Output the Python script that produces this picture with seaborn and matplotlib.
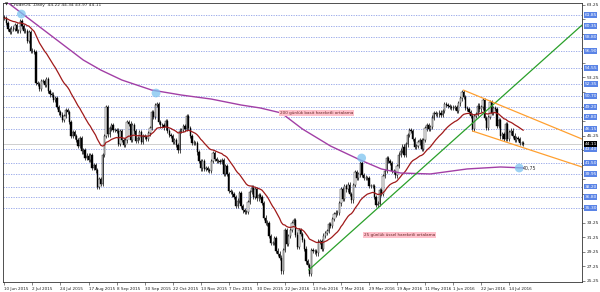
import numpy as np
import pandas as pd
import matplotlib
matplotlib.use("Agg")
import matplotlib.pyplot as plt
import matplotlib.transforms as mtransforms
import seaborn as sns

# ---------------- data ----------------
close_2015_06 = [61.43, 60.77, 59.96, 59.52, 59.97, 59.92, 60.45, 59.61, 59.68, 61.01, 60.27, 59.70, 59.63, 58.33, 59.47]
close_2015_07 = [56.96, 56.93, 56.80, 52.53, 52.33, 51.65, 52.78, 52.74, 52.20, 53.04, 51.41, 50.91, 50.89, 50.15,
                 50.36, 49.19, 48.45, 48.14, 47.39, 47.98, 48.79, 48.52, 47.12]
close_2015_08 = [45.17, 45.74, 45.15, 44.66, 43.87, 44.96, 43.08, 43.30, 42.23, 42.50, 41.87, 42.62, 40.80, 41.14,
                 40.45, 38.24, 39.31, 38.60, 42.56, 45.22, 49.20]
close_2015_09 = [45.41, 46.25, 46.75, 46.05, 46.00, 45.94, 44.15, 45.92, 44.63, 44.00, 44.59, 47.15, 46.90, 44.68,
                 46.68, 45.83, 44.48, 44.91, 45.70, 44.43, 45.23, 45.09]
close_2015_10 = [44.74, 45.54, 46.26, 48.53, 47.81, 49.43, 49.63, 47.10, 46.66, 46.64, 46.38, 47.26, 45.89, 45.29,
                 45.20, 44.38, 44.60, 43.98, 43.20, 45.94, 46.06, 46.59]
close_2015_11 = [46.14, 47.90, 46.32, 45.20, 44.29, 44.21, 44.21, 42.93, 41.75, 40.74, 41.74, 40.67, 40.75, 40.54,
                 40.39, 41.75, 42.87, 42.04, 41.71, 41.71, 41.65]
close_2015_12 = [41.85, 39.94, 41.08, 39.97, 37.65, 37.51, 37.16, 36.76, 35.62, 36.31, 37.35, 35.52, 34.95, 34.73,
                 34.74, 36.14, 37.50, 38.10, 36.81, 37.87, 36.60, 37.04]
close_2016_01 = [36.76, 35.97, 33.97, 33.27, 33.16, 31.41, 30.44, 30.48, 31.20, 29.42, 29.00, 28.46, 26.55, 29.53,
                 32.19, 30.34, 31.45, 32.30, 33.22, 33.62]
close_2016_02 = [31.62, 29.88, 32.28, 31.72, 30.89, 29.69, 27.94, 27.45, 26.21, 29.44, 29.40, 29.30, 29.04, 30.66,
                 30.77, 29.64, 31.48, 31.87, 32.15, 33.07, 32.78, 33.75]
close_2016_03 = [34.40, 34.66, 34.57, 35.92, 37.90, 36.50, 38.29, 37.84, 38.50, 37.18, 36.34, 38.46, 40.20, 39.44,
                 39.91, 41.45, 39.79, 39.46, 39.40, 39.39, 38.28, 38.32, 38.34]
close_2016_04 = [36.79, 35.70, 35.89, 37.75, 37.26, 39.72, 40.36, 42.17, 41.76, 41.50, 40.36, 40.20, 39.78, 41.08,
                 42.63, 43.18, 43.73, 42.64, 44.04, 45.33, 46.03, 45.92]
close_2016_05 = [44.78, 43.65, 43.78, 44.32, 44.66, 43.44, 44.66, 46.23, 46.70, 46.21, 46.40, 47.72, 48.31, 48.19,
                 48.16, 48.41, 48.08, 48.62, 49.56, 49.48, 49.33, 49.20, 49.10]
close_2016_06 = [49.01, 49.17, 48.62, 49.69, 50.36, 51.23, 50.56, 49.07, 48.88, 48.49, 48.01, 46.21, 47.98, 48.20,
                 49.37, 48.85, 49.13, 50.11, 47.64, 46.33, 47.85, 49.88, 48.33]
close_2016_07 = [48.99, 48.90, 46.60, 47.43, 45.14, 45.41, 44.76, 46.80, 44.75, 45.68, 45.95, 45.24, 44.65, 44.94,
                 44.75, 44.19, 44.22, 44.11]
first_open = 61.60

# 200-day simple moving average (bar index, price)
sma200_bar = [0, 21, 45, 55, 67, 84, 101, 118, 135, 146, 158, 170, 186, 203, 215, 226, 243, 264, 283, 296]
sma200_val = [63.90, 60.05, 55.65, 54.27, 52.90, 51.52, 50.83, 50.28, 49.46, 49.05, 48.36, 46.16, 43.82, 41.89,
              40.66, 40.10, 39.97, 40.66, 40.93, 40.80]

# horizontal support / resistance levels
level_prices = [61.85, 60.35, 58.80, 56.90, 54.55, 52.35, 50.70, 49.20, 47.80, 46.15, 43.40, 41.50, 39.95,
                38.20, 36.80, 35.30]
last_price = 44.11

# trend lines (bar index, price)
green_bar = [173.6, 329.5]
green_val = [26.76, 60.46]
upper_bar = [261.8, 329.5]
upper_val = [51.52, 44.78]
lower_bar = [267.0, 329.5]
lower_val = [45.88, 40.93]

# highlighted touch points
circle_bar = [9.7, 86.5, 203.8, 293.7]
circle_val = [61.98, 51.11, 42.17, 40.79]

date_tick_bars = list(range(0, 289, 16))
date_labels = ["10 Jun 2015", "2 Jul 2015", "24 Jul 2015", "17 Aug 2015", "8 Sep 2015", "30 Sep 2015",
               "22 Oct 2015", "13 Nov 2015", "7 Dec 2015", "30 Dec 2015", "22 Jan 2016", "13 Feb 2016",
               "7 Mar 2016", "29 Mar 2016", "19 Apr 2016", "11 May 2016", "1 Jun 2016", "22 Jun 2016",
               "14 Jul 2016"]
price_ticks = [25.25, 27.25, 29.25, 31.25, 33.25, 35.25, 37.25, 39.25, 41.25, 43.25, 45.25, 47.25, 49.25,
               51.25, 53.25, 55.25, 57.25, 59.25, 61.25, 63.25]

# ---------------- build frame ----------------
closes = (close_2015_06 + close_2015_07 + close_2015_08 + close_2015_09 + close_2015_10 + close_2015_11 +
          close_2015_12 + close_2016_01 + close_2016_02 + close_2016_03 + close_2016_04 + close_2016_05 +
          close_2016_06 + close_2016_07)
df = pd.DataFrame({"bar": np.arange(len(closes)), "close": closes})
df["open"] = df["close"].shift(1).fillna(first_open)
df["ema25"] = df["close"].ewm(span=25, adjust=False).mean()
up = df["close"] >= df["open"]

sns.set_theme(style="white")
plt.rcParams["font.family"] = ["DejaVu Sans"]

fig = plt.figure(figsize=(6, 2.92), dpi=100)
ax = fig.add_axes([3 / 600, 1 - 282 / 292, 579 / 600, 279 / 292])
ax.set_facecolor("white")

for lv in level_prices:
    ax.axhline(lv, color="#8d9fe6", lw=0.6, ls=(0, (1.5, 1.5)), zorder=1)
ax.axhline(last_price, color="#c8c8c8", lw=0.6, zorder=1)

# candles
body_lo = np.minimum(df["open"], df["close"])
body_hi = np.maximum(df["open"], df["close"])
ax.vlines(df["bar"], body_lo - 0.3, body_hi + 0.3, color="black", lw=0.5, zorder=3)
ax.bar(df["bar"][up], (body_hi - body_lo)[up], bottom=body_lo[up], width=0.7, color="white",
       edgecolor="black", linewidth=0.3, zorder=4)
ax.bar(df["bar"][~up], (body_hi - body_lo)[~up], bottom=body_lo[~up], width=0.7, color="black",
       edgecolor="black", linewidth=0.3, zorder=4)

sns.lineplot(x=df["bar"], y=df["ema25"], ax=ax, color="#a01a1a", lw=0.9, zorder=5)
sns.lineplot(x=sma200_bar, y=sma200_val, ax=ax, color="#a23fa6", lw=1.0, zorder=5)

ax.plot(green_bar, green_val, color="#2aa02a", lw=0.9, zorder=6)
ax.plot(upper_bar, upper_val, color="#ffa030", lw=0.9, zorder=6)
ax.plot(lower_bar, lower_val, color="#ffa030", lw=0.9, zorder=6)

ax.scatter(circle_bar, circle_val, s=40, color="#7cc4f0", alpha=0.75, edgecolor="none", zorder=7)
ax.text(circle_bar[-1] + 2.2, circle_val[-1], "40,75", fontsize=3.4, color="#333333", va="center", zorder=8)

ax.text(157, 48.4, "200 günlük basit hareketli ortalama", fontsize=3.0, color="#6a2a2a", va="center",
        bbox=dict(boxstyle="square,pad=0.25", fc="#ffc0cb", ec="none"), zorder=8)
ax.text(205, 31.6, "25 günlük üssel hareketli ortalama", fontsize=3.0, color="#6a2a2a", va="center",
        bbox=dict(boxstyle="square,pad=0.25", fc="#ffc0cb", ec="none"), zorder=8)

ax.set_xlim(-0.8, 329.5)
ax.set_ylim(25.1, 63.5)
ax.set_xlabel("")
ax.set_ylabel("")

# right price scale: plain labels where no level label sits on top of them
boxed = level_prices + [last_price]
shown = [p if min(abs(p - b) for b in boxed) >= 0.85 else None for p in price_ticks]
ax.yaxis.tick_right()
ax.set_yticks(price_ticks)
ax.set_yticklabels([f"{p:.2f}" if s is not None else "" for p, s in zip(price_ticks, shown)],
                   fontsize=3.2, color="#222222")
ax.set_xticks(date_tick_bars)
ax.set_xticklabels(date_labels, fontsize=3.0, color="#222222", ha="left")
ax.tick_params(axis="y", length=2, width=0.4, pad=1.5, right=True, left=False)
ax.tick_params(axis="x", length=2, width=0.4, pad=1.5, bottom=True)
for sp in ax.spines.values():
    sp.set_color("#333333")
    sp.set_linewidth(0.6)

trans = mtransforms.blended_transform_factory(ax.transAxes, ax.transData)
for lv in level_prices:
    ax.text(1.004, lv, f"{lv:.2f}", transform=trans, fontsize=3.2, color="white", va="center", ha="left",
            bbox=dict(boxstyle="square,pad=0.15", fc="#5a84e6", ec="none"), clip_on=False, zorder=10)
ax.text(1.004, last_price, f"{last_price:.2f}", transform=trans, fontsize=3.2, color="white", va="center",
        ha="left", bbox=dict(boxstyle="square,pad=0.15", fc="black", ec="none"), clip_on=False, zorder=10)

fig.text(5 / 600, 1 - 5 / 292, "\u25bc", fontsize=3.0, color="#222222", va="center", ha="left")
fig.text(11 / 600, 1 - 5 / 292, "CrudeOIL ,Daily  44.22 44.34 43.97 44.11", fontsize=3.2, color="#222222",
         va="center", ha="left")

fig.savefig("out.png", dpi=100, facecolor="white")
